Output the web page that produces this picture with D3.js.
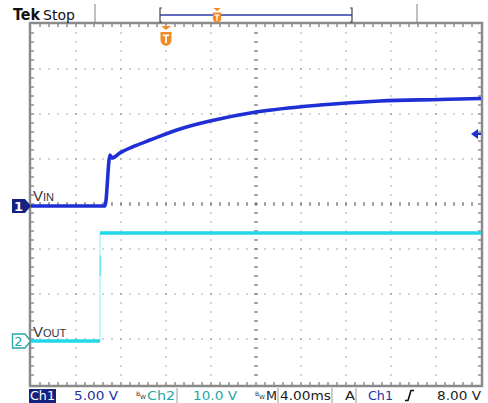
<!DOCTYPE html>
<html><head><meta charset="utf-8">
<script src="https://cdn.jsdelivr.net/npm/d3@7"></script>
<style>body{margin:0;background:#fff}svg{display:block}</style></head>
<body>
<script>
// ---- data (time in ms relative to trigger, volts) ----
const vinTime  = [-12, -5.42, -4.98, -4.8, -4.09, -2.76, -1.42, 1.24, 3.91, 8.0, 13.69, 19.02, 24.36, 28];
const vinVolts = [0, 0, 5.67, 5.33, 5.9, 6.67, 7.33, 8.56, 9.44, 10.44, 11.22, 11.67, 11.83, 11.94];
const voutTime  = [-12, -5.87, -5.87, 28];
const voutVolts = [0, 0, 24, 24];
const ch1VoltsPerDiv = 5, ch2VoltsPerDiv = 10, msPerDiv = 4, triggerLevel = 8;
const statusTexts = ["Ch1", "5.00 V", "Ch2", "10.0 V", "M", "4.00ms", "A", "Ch1", "8.00 V"];

const W = 488, H = 403;
const L = 31, R = 481, T = 24, B = 385;
const div = 45;
const svg = d3.select("body").append("svg").attr("width", W).attr("height", H);

const x = d3.scaleLinear().domain([-12, 28]).range([L, R]);
const y1 = d3.scaleLinear().domain([0, ch1VoltsPerDiv]).range([206, 206 - div]);
const y2 = d3.scaleLinear().domain([0, ch2VoltsPerDiv]).range([341, 341 - div]);

// ---- graticule ----
const g = svg.append("g");
const minor = div / 5;
for (let i = 1; i < 10; i++) {
  const gx = L + i * div;
  for (let yy = T + minor; yy < B - 1; yy += minor)
    g.append("rect").attr("x", gx - 0.5).attr("y", yy - 0.5).attr("width", 1).attr("height", 1).attr("fill", "#555");
}
for (let j = 1; j < 8; j++) {
  const gy = T + j * div;
  for (let xx = L + minor; xx < R - 1; xx += minor)
    g.append("rect").attr("x", xx - 0.5).attr("y", gy - 0.5).attr("width", 1).attr("height", 1).attr("fill", "#555");
}
const cx = L + 5 * div, cy = T + 4 * div;
for (let yy = T + minor; yy < B - 1; yy += minor)
  g.append("line").attr("x1", cx - 2).attr("x2", cx + 2).attr("y1", yy).attr("y2", yy).attr("stroke", "#666").attr("stroke-width", 1);
for (let xx = L + minor; xx < R - 1; xx += minor)
  g.append("line").attr("x1", xx).attr("x2", xx).attr("y1", cy - 2).attr("y2", cy + 2).attr("stroke", "#666").attr("stroke-width", 1);
for (let xx = L + minor; xx < R - 1; xx += minor) {
  g.append("line").attr("x1", xx).attr("x2", xx).attr("y1", T).attr("y2", T + 3).attr("stroke", "#555");
  g.append("line").attr("x1", xx).attr("x2", xx).attr("y1", B - 3).attr("y2", B).attr("stroke", "#555");
}
for (let yy = T + minor; yy < B - 1; yy += minor) {
  g.append("line").attr("x1", L).attr("x2", L + 3).attr("y1", yy).attr("y2", yy).attr("stroke", "#555");
  g.append("line").attr("x1", R - 3).attr("x2", R).attr("y1", yy).attr("y2", yy).attr("stroke", "#555");
}
g.append("rect").attr("x", L - 1).attr("y", T - 1).attr("width", R - L + 2).attr("height", B - T + 2)
  .attr("fill", "none").attr("stroke", "#8a8a8a").attr("stroke-width", 2.5);

// ---- traces ----
const vinLine = d3.line().x((d, i) => x(vinTime[i])).y(d => y1(d)).curve(d3.curveMonotoneX);
svg.append("path").attr("d", vinLine(vinVolts)).attr("fill", "none")
  .attr("stroke", "#1f2fd6").attr("stroke-width", 3.6).attr("stroke-linejoin", "round");

svg.append("line").attr("x1", x(voutTime[1])).attr("x2", x(voutTime[2]))
  .attr("y1", y2(voutVolts[1])).attr("y2", y2(voutVolts[2])).attr("stroke", "#a8f2f4").attr("stroke-width", 1.3);
svg.append("line").attr("x1", x(voutTime[1]) + 0.5).attr("x2", x(voutTime[1]) + 0.5)
  .attr("y1", y2(19)).attr("y2", y2(14.5)).attr("stroke", "#6fe4ec").attr("stroke-width", 1.5);
svg.append("line").attr("x1", x(voutTime[0])).attr("x2", x(voutTime[1]))
  .attr("y1", y2(voutVolts[0])).attr("y2", y2(voutVolts[1])).attr("stroke", "#22d8e6").attr("stroke-width", 3.4);
svg.append("line").attr("x1", x(voutTime[2])).attr("x2", x(voutTime[3]))
  .attr("y1", y2(voutVolts[2])).attr("y2", y2(voutVolts[3])).attr("stroke", "#22d8e6").attr("stroke-width", 3.4);

// ---- channel markers ----
const m1y = y1(0);
svg.append("path").attr("d", `M12,${m1y - 7}H25L31,${m1y}L25,${m1y + 7}H12Z`).attr("fill", "#14237f");
svg.append("text").attr("x", 18.5).attr("y", m1y + 5).attr("text-anchor", "middle").attr("fill", "#fff")
  .attr("font-family", "DejaVu Sans").attr("font-weight", "bold").attr("font-size", 13).text("1");
const m2y = y2(0);
svg.append("path").attr("d", `M12.5,${m2y - 7}H25L30.5,${m2y}L25,${m2y + 7}H12.5Z`).attr("fill", "#fff")
  .attr("stroke", "#25a5a8").attr("stroke-width", 1.3);
svg.append("text").attr("x", 18.5).attr("y", m2y + 5).attr("text-anchor", "middle").attr("fill", "#25a5a8")
  .attr("font-family", "DejaVu Sans").attr("font-size", 13).text("2");

function vlabel(xp, yp, sub) {
  const t = svg.append("text").attr("x", xp).attr("y", yp).attr("fill", "#333").attr("font-family", "Liberation Sans");
  t.append("tspan").attr("font-size", 15).text("V");
  t.append("tspan").attr("font-size", 11).text(sub);
}
vlabel(33, 201, "IN");
vlabel(33, 337, "OUT");

// trigger level arrow (right)
const ty = y1(triggerLevel);
svg.append("path").attr("d", `M471,${ty}L478,${ty - 5}V${ty + 5}Z`).attr("fill", "#1f2fd6");
svg.append("line").attr("x1", 476).attr("x2", 481).attr("y1", ty).attr("y2", ty).attr("stroke", "#1f2fd6").attr("stroke-width", 2);

// trigger position marker
function tMarker(xp, yt, s) {
  const gg = svg.append("g").attr("transform", `translate(${xp},${yt}) scale(${s})`);
  gg.append("path").attr("d", "M-5,0H5L0,4Z").attr("fill", "#f08a24");
  gg.append("path").attr("d", "M-5.5,6H5.5V14Q5.5,18.5 0,20Q-5.5,18.5 -5.5,14Z").attr("fill", "#f08a24");
  gg.append("path").attr("d", "M-3.2,8.5H3.2V10.3H0.9V17H-0.9V10.3H-3.2Z").attr("fill", "#fff");
}
tMarker(x(0), T + 2, 1);

// ---- header ----
svg.append("text").attr("x", 13).attr("y", 20).attr("font-family", "DejaVu Sans").attr("font-weight", "bold")
  .attr("font-size", 16).attr("fill", "#111").attr("textLength", 27).attr("lengthAdjust", "spacingAndGlyphs").text("Tek");
svg.append("text").attr("x", 43).attr("y", 20).attr("font-family", "DejaVu Sans").attr("font-size", 14)
  .attr("fill", "#111").text("Stop");
[95, 417].forEach(xx => svg.append("line").attr("x1", xx).attr("x2", xx).attr("y1", 4).attr("y2", 22)
  .attr("stroke", "#aaa").attr("stroke-width", 1.5));
svg.append("line").attr("x1", 160).attr("x2", 352).attr("y1", 15).attr("y2", 15).attr("stroke", "#2b3aa8").attr("stroke-width", 1.3);
svg.append("path").attr("d", "M162,8H160V22H162").attr("fill", "none").attr("stroke", "#444").attr("stroke-width", 1.2);
svg.append("path").attr("d", "M350,8H352V22H350").attr("fill", "none").attr("stroke", "#444").attr("stroke-width", 1.2);
tMarker(217, 8, 0.75);

// ---- status bar ----
const fy = 400;
const st = (txt, xp, w, col) => svg.append("text").attr("x", xp).attr("y", fy).attr("font-family", "DejaVu Sans")
  .attr("font-size", 13).attr("fill", col).attr("textLength", w).attr("lengthAdjust", "spacingAndGlyphs").text(txt);
svg.append("rect").attr("x", 29).attr("y", 389).attr("width", 27).attr("height", 14).attr("fill", "#14237f");
st(statusTexts[0], 30, 25, "#fff");
st(statusTexts[1], 74, 44, "#1f2f9f");
const bw = (xp) => {
  const t = svg.append("text").attr("x", xp).attr("y", fy - 4).attr("font-family", "DejaVu Sans").attr("font-size", 6).attr("fill", "#333");
  t.append("tspan").text("B");
  t.append("tspan").attr("dy", 3).text("W");
};
bw(136);
st(statusTexts[2], 147, 28, "#25a5a8");
svg.append("line").attr("x1", 177).attr("x2", 177).attr("y1", 388).attr("y2", 403).attr("stroke", "#999");
st(statusTexts[3], 193, 44, "#25a5a8");
bw(255);
st(statusTexts[4], 266, 11, "#222");
svg.append("line").attr("x1", 278).attr("x2", 278).attr("y1", 388).attr("y2", 403).attr("stroke", "#999");
st(statusTexts[5], 280, 51, "#222");
svg.append("line").attr("x1", 332).attr("x2", 332).attr("y1", 388).attr("y2", 403).attr("stroke", "#999");
st(statusTexts[6], 345, 10, "#222");
svg.append("line").attr("x1", 356).attr("x2", 356).attr("y1", 388).attr("y2", 403).attr("stroke", "#999");
st(statusTexts[7], 368, 25, "#1f2f9f");
svg.append("path").attr("d", "M405,400.5H408L411,390.5H414").attr("fill", "none").attr("stroke", "#111").attr("stroke-width", 1.6);
st(statusTexts[8], 437, 44, "#222");
</script>
</body></html>
